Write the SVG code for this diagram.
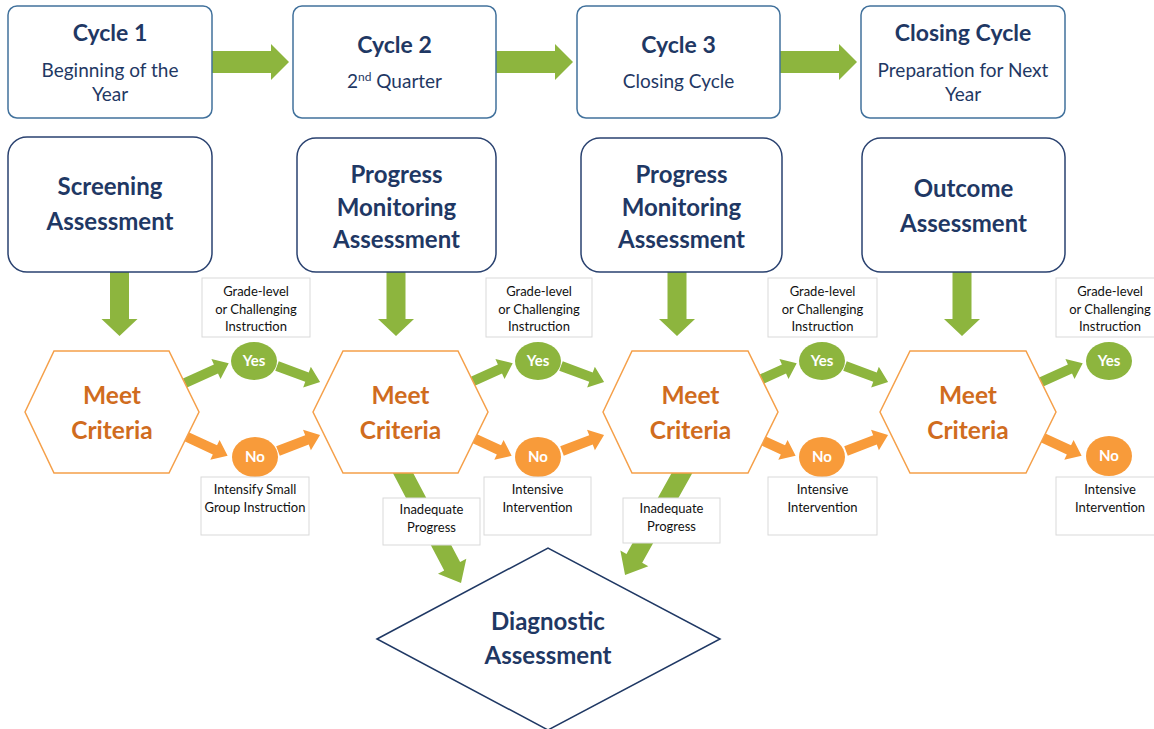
<svg xmlns="http://www.w3.org/2000/svg" width="1154" height="729" viewBox="0 0 1154 729">
<style>
.cyc{fill:#fff;stroke:#41719c;stroke-width:1.5}
.asm{fill:#fff;stroke:#2a4270;stroke-width:1.5}
.hex{fill:#fff;stroke:#f5a04a;stroke-width:1.5}
.lbl{fill:#fff;stroke:#d9d9d9;stroke-width:1}
.g{fill:#8db53e}
.o{fill:#f89b3a}
.t1{font-family:Lato,"Open Sans",sans-serif;font-weight:bold;fill:#1f3864;text-anchor:middle}
.t2{font-family:Lato,"Open Sans",sans-serif;fill:#1f3864;text-anchor:middle;font-size:19px}
.mc{font-family:Lato,"Open Sans",sans-serif;font-weight:bold;fill:#d06c1e;text-anchor:middle;font-size:24.5px}
.sm{font-family:Lato,"Open Sans",sans-serif;fill:#111;text-anchor:middle;font-size:13px}
.yn{font-family:Lato,"Open Sans",sans-serif;font-weight:bold;fill:#fff;text-anchor:middle;font-size:15px}
</style>
<defs>
<polygon id="ra" points="0,-11 59,-11 59,-18 77,0 59,18 59,11 0,11" class="g"/>
<polygon id="da" points="-9.5,0 9.5,0 9.5,47 18,47 0,64 -18,47 -9.5,47" class="g"/>
<polygon id="sa1" points="0,-5 34,-5 34,-11 48,0 34,11 34,5 0,5"/>
<polygon id="sa2" points="0,-5 32,-5 32,-11 46,0 32,11 32,5 0,5"/>
<polygon id="sa3" points="0,-5 33,-5 33,-11 47,0 33,11 33,5 0,5"/>
<polygon id="sa4" points="0,-5 31,-5 31,-11 45,0 31,11 31,5 0,5"/>
</defs>
<g id="connectors">
<use href="#ra" x="212" y="62"/>
<use href="#ra" x="496" y="62"/>
<use href="#ra" x="780" y="62"/>
<use href="#da" x="119.5" y="272"/>
<use href="#da" x="396" y="272"/>
<use href="#da" x="677" y="272"/>
<use href="#da" x="962" y="272"/>
<g class="g">
<use href="#sa1" transform="translate(185,383) rotate(-24.4)"/>
<use href="#sa2" transform="translate(277,366) rotate(20.4)"/>
<use href="#sa1" transform="translate(469,383) rotate(-24.4)"/>
<use href="#sa2" transform="translate(561,366) rotate(20.4)"/>
<use href="#sa1" transform="translate(753,383) rotate(-24.4)"/>
<use href="#sa2" transform="translate(845,366) rotate(20.4)"/>
<use href="#sa1" transform="translate(1039,383) rotate(-24.4)"/>
</g>
<g class="o">
<use href="#sa3" transform="translate(185,436) rotate(24.9)"/>
<use href="#sa4" transform="translate(278,451) rotate(-20.9)"/>
<use href="#sa3" transform="translate(469,436) rotate(24.9)"/>
<use href="#sa4" transform="translate(562,451) rotate(-20.9)"/>
<use href="#sa3" transform="translate(753,436) rotate(24.9)"/>
<use href="#sa4" transform="translate(846,451) rotate(-20.9)"/>
<use href="#sa3" transform="translate(1039,436) rotate(24.9)"/>
</g>
<polygon class="g" transform="translate(397.4,462.4) rotate(62.2)" points="0,-9 117.4,-9 117.4,-16 136.4,0 117.4,16 117.4,9 0,9"/>
<polygon class="g" transform="translate(687.9,462.5) rotate(119.2)" points="0,-9 109.8,-9 109.8,-16 128.8,0 109.8,16 109.8,9 0,9"/>
</g>
<g id="cycle1"><rect class="cyc" x="8" y="6" width="204" height="112" rx="9"/><text class="t1" x="110" y="41" font-size="23">Cycle 1</text><text class="t2" x="110" y="77">Beginning of the</text><text class="t2" x="110" y="101">Year</text></g>
<g id="cycle2"><rect class="cyc" x="293" y="6" width="203" height="112" rx="9"/><text class="t1" x="394.5" y="53" font-size="23">Cycle 2</text><text class="t2" x="394.5" y="88">2<tspan font-size="12" baseline-shift="super">nd</tspan> Quarter</text></g>
<g id="cycle3"><rect class="cyc" x="577" y="6" width="203" height="112" rx="9"/><text class="t1" x="678.5" y="53" font-size="23">Cycle 3</text><text class="t2" x="678.5" y="88">Closing Cycle</text></g>
<g id="closing"><rect class="cyc" x="861" y="6" width="204" height="112" rx="9"/><text class="t1" x="963" y="41" font-size="23">Closing Cycle</text><text class="t2" x="963" y="77">Preparation for Next</text><text class="t2" x="963" y="101">Year</text></g>
<g id="screening"><rect class="asm" x="8" y="137" width="204" height="135" rx="19"/><text class="t1" x="110" y="195" font-size="24">Screening</text><text class="t1" x="110" y="230" font-size="24">Assessment</text></g>
<g id="progress1"><rect class="asm" x="297" y="138" width="199" height="134" rx="19"/><text class="t1" x="396.5" y="183" font-size="24">Progress</text><text class="t1" x="396.5" y="216" font-size="24">Monitoring</text><text class="t1" x="396.5" y="248" font-size="24">Assessment</text></g>
<g id="progress2"><rect class="asm" x="581" y="138" width="201" height="134" rx="19"/><text class="t1" x="681.5" y="183" font-size="24">Progress</text><text class="t1" x="681.5" y="216" font-size="24">Monitoring</text><text class="t1" x="681.5" y="248" font-size="24">Assessment</text></g>
<g id="outcome"><rect class="asm" x="862" y="138" width="203" height="134" rx="19"/><text class="t1" x="963.5" y="197" font-size="24">Outcome</text><text class="t1" x="963.5" y="232" font-size="24">Assessment</text></g>
<g id="meet1"><polygon class="hex" points="25,412 54,351 169,351 199,412 169,473 54,473"/><text class="mc" x="112" y="404">Meet</text><text class="mc" x="112" y="439">Criteria</text></g>
<g id="meet2"><polygon class="hex" points="313,412 343,351 458,351 488,412 458,473 343,473"/><text class="mc" x="400.5" y="404">Meet</text><text class="mc" x="400.5" y="439">Criteria</text></g>
<g id="meet3"><polygon class="hex" points="603,412 632,351 748,351 778,412 748,473 632,473"/><text class="mc" x="690.5" y="404">Meet</text><text class="mc" x="690.5" y="439">Criteria</text></g>
<g id="meet4"><polygon class="hex" points="880,412 910,351 1026,351 1056,412 1026,473 910,473"/><text class="mc" x="968" y="404">Meet</text><text class="mc" x="968" y="439">Criteria</text></g>
<g id="yes1"><ellipse class="g" cx="254" cy="361" rx="23" ry="19"/><text class="yn" x="254" y="366">Yes</text></g>
<g id="yes2"><ellipse class="g" cx="538" cy="361" rx="23" ry="19"/><text class="yn" x="538" y="366">Yes</text></g>
<g id="yes3"><ellipse class="g" cx="822" cy="361" rx="23" ry="19"/><text class="yn" x="822" y="366">Yes</text></g>
<g id="yes4"><ellipse class="g" cx="1109" cy="361" rx="23" ry="19"/><text class="yn" x="1109" y="366">Yes</text></g>
<g id="no1"><ellipse class="o" cx="255" cy="457" rx="23" ry="20"/><text class="yn" x="255" y="462">No</text></g>
<g id="no2"><ellipse class="o" cx="538" cy="457" rx="23" ry="20"/><text class="yn" x="538" y="462">No</text></g>
<g id="no3"><ellipse class="o" cx="822" cy="457" rx="23" ry="20"/><text class="yn" x="822" y="462">No</text></g>
<g id="no4"><ellipse class="o" cx="1109" cy="456" rx="23" ry="20"/><text class="yn" x="1109" y="461">No</text></g>
<g id="grade1"><rect class="lbl" x="202" y="278" width="108" height="59"/><text class="sm" x="256" y="296">Grade-level</text><text class="sm" x="256" y="314">or Challenging</text><text class="sm" x="256" y="331">Instruction</text></g>
<g id="grade2"><rect class="lbl" x="486" y="278" width="106" height="59"/><text class="sm" x="539" y="296">Grade-level</text><text class="sm" x="539" y="314">or Challenging</text><text class="sm" x="539" y="331">Instruction</text></g>
<g id="grade3"><rect class="lbl" x="768" y="278" width="109" height="59"/><text class="sm" x="822.5" y="296">Grade-level</text><text class="sm" x="822.5" y="314">or Challenging</text><text class="sm" x="822.5" y="331">Instruction</text></g>
<g id="grade4"><rect class="lbl" x="1056" y="278" width="110" height="59"/><text class="sm" x="1110" y="296">Grade-level</text><text class="sm" x="1110" y="314">or Challenging</text><text class="sm" x="1110" y="331">Instruction</text></g>
<g id="intensify1"><rect class="lbl" x="201" y="477" width="108" height="58"/><text class="sm" x="255" y="494">Intensify Small</text><text class="sm" x="255" y="512">Group Instruction</text></g>
<g id="intensive2"><rect class="lbl" x="484" y="477" width="107" height="58"/><text class="sm" x="537.5" y="494">Intensive</text><text class="sm" x="537.5" y="512">Intervention</text></g>
<g id="intensive3"><rect class="lbl" x="768" y="477" width="109" height="58"/><text class="sm" x="822.5" y="494">Intensive</text><text class="sm" x="822.5" y="512">Intervention</text></g>
<g id="intensive4"><rect class="lbl" x="1056" y="477" width="110" height="58"/><text class="sm" x="1110" y="494">Intensive</text><text class="sm" x="1110" y="512">Intervention</text></g>
<g id="inadequate1"><rect class="lbl" x="383" y="498" width="97" height="47"/><text class="sm" x="431.5" y="514">Inadequate</text><text class="sm" x="431.5" y="532">Progress</text></g>
<g id="inadequate2"><rect class="lbl" x="623" y="498" width="97" height="45"/><text class="sm" x="671.5" y="513">Inadequate</text><text class="sm" x="671.5" y="531">Progress</text></g>
<g id="diagnostic"><polygon points="377,639 548,548 720,639 548,730" fill="#fff" stroke="#1f3864" stroke-width="1.5"/><text class="t1" x="548" y="630" font-size="24">Diagnostic</text><text class="t1" x="548" y="664" font-size="24">Assessment</text></g>
</svg>
